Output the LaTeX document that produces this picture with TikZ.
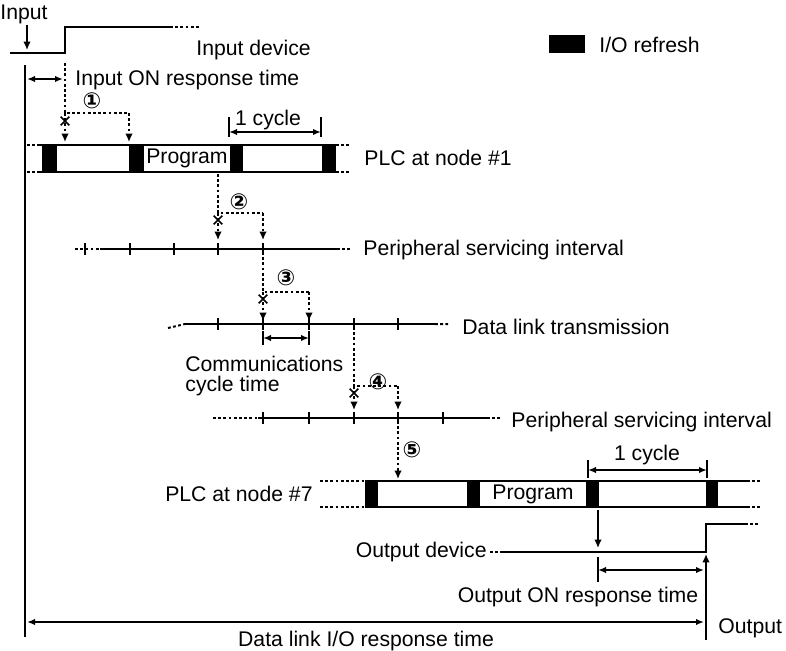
\documentclass[tikz,border=0pt]{standalone}
\usepackage{fontspec}
\setmainfont{Liberation Sans}
\newfontfamily\circfont{DejaVu Sans}
\usetikzlibrary{arrows.meta,shapes.misc}

\begin{document}
\begin{tikzpicture}[x=0.5pt, y=-0.5pt,
    every node/.style={font=\fontsize{10.6}{10}\selectfont, inner sep=0pt, align=left},
    sig/.style={line width=1pt},
    dots/.style={line width=1pt, dash pattern=on 1.4pt off 1.2pt},
    arr/.style={-{Latex[length=4.2pt,width=3.8pt]}},
    dim/.style={{Latex[length=4pt,width=3.2pt]}-{Latex[length=4pt,width=3.2pt]}, line width=0.9pt},
    tmark/.style={line width=0.8pt},
    num/.style={font=\circfont\bfseries\fontsize{11}{11}\selectfont},
    xmark/.style={cross out, draw, line width=0.8pt, minimum size=3.5pt}]
            \useasboundingbox (0,0) rectangle (786,650);

            % Input signal
            \node (input) at (24,14) {Input};
            \draw[sig, arr] (27,25) -- (27,50);
            \draw[sig] (10,53) -- (65,53) -- (65,27) -- (170,27);
            \draw[dots] (170,27) -- (200,27);
            \node[anchor=west] (indev) at (196,50) {Input device};

            % Legend
            \fill (549,35) rectangle (585,53);
            \node[anchor=west] (legend) at (599,45) {I/O refresh};

            % Time base
            \draw[sig] (25,65) -- (25,637);

            % Input ON response time and step 1
            \draw[dim] (27,79) -- (63,79);
            \node[anchor=west] (inON) at (75,80) {Input ON response time};
            \draw[dots] (65,63) -- (65,113) -- (129,113);
            \draw[dots, arr] (65,113) -- (65,142);
            \draw[dots, arr] (129,113) -- (129,142);
            \node[xmark] (x1) at (65,121) {};
            \node[num] (n1) at (92,101) {①};

            % PLC at node #1
            \draw[sig] (40,145) -- (336,145) (40,172) -- (336,172);
            \draw[dots] (27,145) -- (40,145) (27,172) -- (40,172)
                (336,145) -- (350,145) (336,172) -- (350,172);
            \foreach \a/\b in {42/57,129/144,230/243,322/336}
                \fill (\a,145) rectangle (\b,172);
            \node (prog1) at (187,158) {Program};
            \node[anchor=west] (plc1) at (364,158) {PLC at node \#1};
            \draw[tmark] (229,117) -- (229,137) (321,117) -- (321,137);
            \draw[dim] (229,132) -- (321,132);
            \node (cyc1) at (268,120) {1 cycle};

            % Step 2
            \draw[dots] (218,174) -- (218,213) -- (263,213);
            \draw[dots, arr] (218,213) -- (218,240);
            \draw[dots, arr] (263,213) -- (263,240);
            \node[xmark] (x2) at (218,220) {};
            \node[num] (n2) at (239,202) {②};

            % Peripheral servicing interval (node #1)
            \draw[dots] (75,249) -- (100,249) (337,249) -- (350,249);
            \draw[sig] (100,249) -- (337,249);
            \foreach \x in {85,130,174,218,263}
                \draw[tmark] (\x,243) -- (\x,255);
            \node[anchor=west] (per1) at (363,250) {Peripheral servicing interval};

            % Step 3
            \draw[dots] (263,252) -- (263,292) -- (309,292);
            \draw[dots, arr] (263,292) -- (263,321);
            \draw[dots, arr] (309,292) -- (309,321);
            \node[xmark] (x3) at (263,299) {};
            \node[num] (n3) at (286,278) {③};

            % Data link transmission
            \draw[dots] (168,328) -- (185,324) (435,324) -- (450,324);
            \draw[sig] (185,324) -- (435,324);
            \foreach \x in {218,263,309,354,398}
                \draw[tmark] (\x,318) -- (\x,330);
            \node[anchor=west] (dlink) at (462,327) {Data link transmission};
            \draw[tmark] (263,331) -- (263,345) (309,331) -- (309,345);
            \draw[dim] (263,338) -- (309,338);
            \node[anchor=west] (comm) at (185,376) {Communications\\cycle time};

            % Step 4
            \draw[dots] (354,327) -- (354,386) -- (398,386);
            \draw[dots, arr] (354,386) -- (354,410);
            \draw[dots, arr] (398,386) -- (398,410);
            \node[xmark] (x4) at (354,393) {};
            \node[num] (n4) at (378,382) {④};

            % Peripheral servicing interval (node #7)
            \draw[dots] (213,418) -- (258,418) (487,418) -- (500,418);
            \draw[sig] (258,418) -- (487,418);
            \foreach \x in {263,309,354,398,443}
                \draw[tmark] (\x,412) -- (\x,424);
            \node[anchor=west] (per2) at (511,422) {Peripheral servicing interval};

            % Step 5
            \draw[dots, arr] (398,421) -- (398,479);
            \node[num] (n5) at (412,450) {⑤};

            % PLC at node #7
            \draw[sig] (365,481) -- (747,481) (365,507) -- (747,507);
            \draw[dots] (320,481) -- (365,481) (320,507) -- (365,507)
                (747,481) -- (760,481) (747,507) -- (760,507);
            \foreach \a/\b in {365/378,467/480,586/599,706/718}
                \fill (\a,481) rectangle (\b,507);
            \node (prog7) at (533,494) {Program};
            \node[anchor=east] (plc7) at (313,494) {PLC at node \#7};
            \draw[tmark] (588,460) -- (588,478) (707,460) -- (707,478);
            \draw[dim] (588,470) -- (707,470);
            \node (cyc7) at (647,455) {1 cycle};

            % Output device
            \draw[sig, arr] (598,510) -- (598,548);
            \draw[dots] (490,552) -- (500,552) (745,524) -- (760,524);
            \draw[sig] (500,552) -- (706,552) -- (706,524) -- (745,524);
            \node[anchor=east] (outdev) at (487,552) {Output device};
            \draw[tmark] (598,557) -- (598,582);
            \draw[dim] (598,570) -- (704,570);
            \node (outON) at (578,597) {Output ON response time};
            \draw[sig, arr] (706,640) -- (706,554);
            \node[anchor=west] (output) at (718,628) {Output};

            % Overall response time
            \draw[dim] (27,622) -- (704,622);
            \node (total) at (366,641) {Data link I/O response time};
\end{tikzpicture}
\end{document}
